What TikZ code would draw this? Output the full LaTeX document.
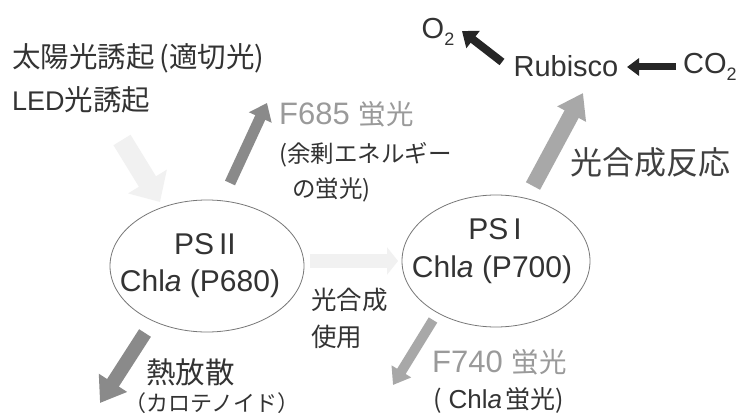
\documentclass[tikz,border=0pt]{standalone}
\usepackage{fontspec}
\setmainfont{Noto Sans CJK JP}
\newfontfamily\lat{Liberation Sans}
\usetikzlibrary{arrows.meta,shapes.geometric}
\definecolor{txt}{HTML}{333333}
\definecolor{fluo}{HTML}{9A9A9A}
\definecolor{darkg}{HTML}{8A8A8A}
\definecolor{midg}{HTML}{A8A8A8}
\definecolor{pale}{HTML}{F1F1F1}
\definecolor{rim}{HTML}{777777}
\newcommand{\fs}[1]{\fontsize{#1}{#1}\selectfont}
\tikzset{
  lbl/.style={inner sep=0pt, text=txt, anchor=west},
  ctr/.style={inner sep=0pt, text=txt},
  psys/.style={draw=rim, line width=0.8pt, ellipse, inner sep=0pt},
  fatarrow/.style n args={4}{draw=#1, line width=#2, -{Triangle[length=#3, width=#4]}},
}
\begin{document}
\begin{tikzpicture}[x=1pt,y=-1pt]
\fill[white] (0,0) rectangle (739,417);
\useasboundingbox (0,0) rectangle (739,417);

% light input text
\node[lbl] (sun) at (12,58) {\fs{28.5}太陽光誘起\,(適切光)};
\node[lbl] (led) at (12,100) {\fs{28.5}{\lat\fs{27}LED}光誘起};

% photosystems
\node[psys, minimum width=194pt, minimum height=132pt] (ps2) at (207,266) {};
\node[ctr] (ps2a) at (205,244) {\lat\fs{30}PS\,II};
\node[ctr] (ps2b) at (200,284) {\lat\fs{30}Chl\textit{a} (P680)};
\node[psys, minimum width=188pt, minimum height=132pt] (ps1) at (496,261) {};
\node[ctr] (ps1a) at (495,229) {\lat\fs{30}PS\,I};
\node[ctr] (ps1b) at (492,270) {\lat\fs{30}Chl\textit{a} (P700)};

% F685
\node[lbl, text=fluo] (f685) at (279,114) {{\lat\fs{31}F685}\hspace{9pt}{\fs{27.5}蛍光}};
\node[lbl] (f685a) at (279,155) {\fs{23.5}(余剰エネルギー};
\node[lbl] (f685b) at (292,190) {\fs{23.5}の蛍光)};

% middle
\node[lbl] (use1) at (311,300) {\fs{25.5}光合成};
\node[lbl] (use2) at (311,337) {\fs{25.5}使用};

% reaction
\node[ctr, text=black!75] (react) at (650,162) {\fs{32}光合成反応};
\node[ctr] (rub) at (566,66) {\lat\fs{29}Rubisco};
\node[lbl] (co2) at (683,67) {\lat\fs{29}CO\raisebox{-7pt}{\fs{18}2}};
\node[ctr] (o2) at (438,32) {\lat\fs{29}O\raisebox{-7pt}{\fs{18}2}};

% heat
\node[lbl] (heat) at (146,372) {\fs{29.5}熱放散};
\node[lbl] (caro) at (124,403) {\fs{22}（カロテノイド）};

% F740
\node[lbl, text=fluo] (f740) at (432,362) {{\lat\fs{31}F740}\hspace{9pt}{\fs{27.5}蛍光}};
\node[lbl] (f740a) at (433,400) {\fs{25}(\hspace{7pt}{\lat\fs{26}Chl\textit{a}}\hspace{3pt}蛍光)};

% arrow end points
\coordinate (inT) at (122,140);
\coordinate (inH) at (160,202);
\coordinate (fT) at (230,183);
\coordinate (fH) at (267,103);
\coordinate (mT) at (310,261);
\coordinate (mH) at (398,261);
\coordinate (rT) at (533,186);
\coordinate (rH) at (583,93);
\coordinate (hT) at (145,333);
\coordinate (hH) at (100,403);
\coordinate (gT) at (433,320);
\coordinate (gH) at (393,385);
\coordinate (cT) at (676,67);
\coordinate (cH) at (627,67);
\coordinate (oT) at (502,62);
\coordinate (oH) at (462,31);

\draw[fatarrow={pale}{20pt}{24pt}{44pt}] (inT) -- (inH);
\draw[fatarrow={darkg}{11pt}{16pt}{24pt}] (fT) -- (fH);
\draw[fatarrow={pale}{14pt}{11pt}{27pt}] (mT) -- (mH);
\draw[fatarrow={midg}{16pt}{24pt}{31pt}] (rT) -- (rH);
\draw[fatarrow={darkg}{14pt}{24pt}{32pt}] (hT) -- (hH);
\draw[fatarrow={midg}{10pt}{16pt}{22pt}] (gT) -- (gH);
\draw[fatarrow={black!85}{7pt}{12pt}{17pt}] (cT) -- (cH);
\draw[fatarrow={black!85}{8pt}{14pt}{21pt}] (oT) -- (oH);
\end{tikzpicture}
\end{document}
